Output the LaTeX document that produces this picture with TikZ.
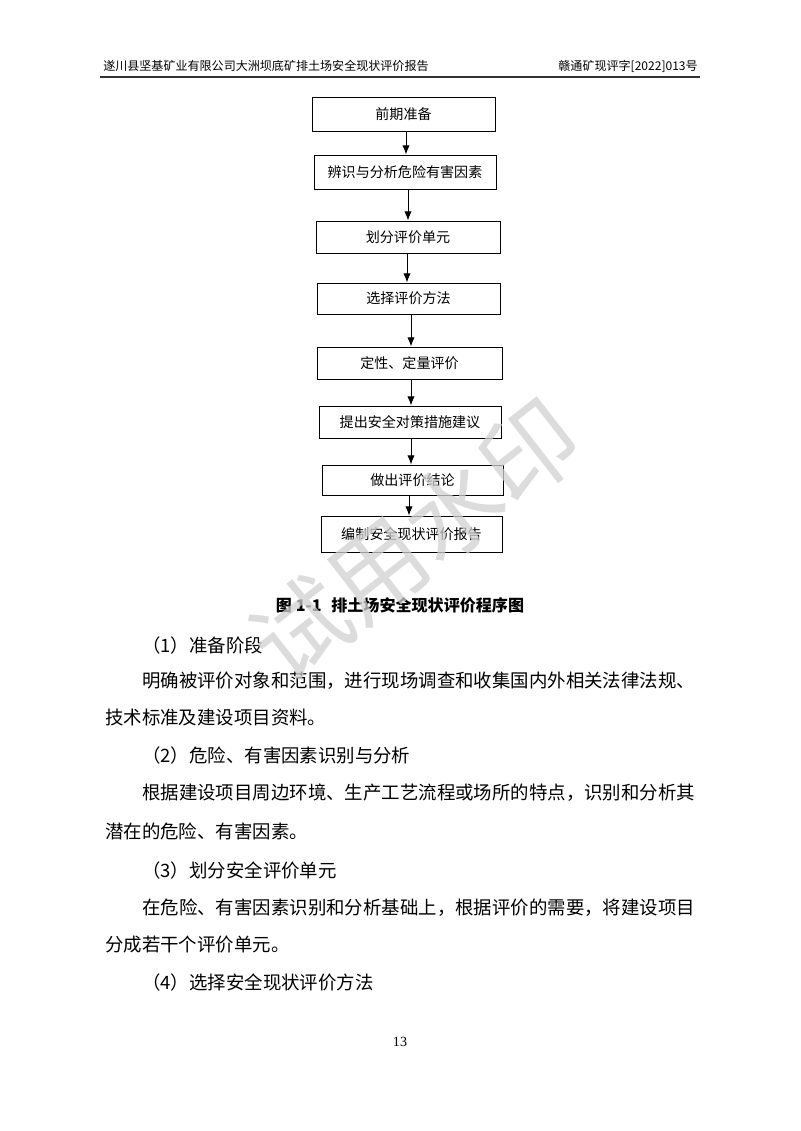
\documentclass[tikz,border=0pt]{standalone}
\usepackage{fontspec}
\setmainfont{Liberation Serif}
\newfontfamily\cjk{Noto Sans CJK SC}
\usetikzlibrary{arrows.meta}
\tikzset{
  flowbox/.style={draw=black, line width=0.7pt, inner sep=0pt, font=\cjk\fontsize{10.5}{12}\selectfont},
  arr/.style={line width=0.7pt, -{Latex[length=2.4mm,width=1.9mm]}},
  bodytext/.style={anchor=west, inner sep=0pt, font=\cjk\fontsize{13.76}{16}\selectfont},
  headtext/.style={inner sep=0pt, font=\cjk\fontsize{9}{11}\selectfont},
}
\begin{document}
\begin{tikzpicture}[x=0.2625mm, y=-0.2625mm]
\useasboundingbox (0,0) rectangle (800,1131);
\fill[white] (0,0) rectangle (800,1131);
% header
\node[headtext, anchor=west] (hl) at (103,66) {遂川县坚基矿业有限公司大洲坝底矿排土场安全现状评价报告};
\node[headtext, anchor=east] (hr) at (698,66) {赣通矿现评字[2022]013号};
\draw[line width=1.3pt, black!80] (100,77) -- (700,77);
% flow boxes
\node[flowbox, minimum width=183*0.2625mm, minimum height=34*0.2625mm] (b1) at (403.5,114) {前期准备};
\node[flowbox, minimum width=182*0.2625mm, minimum height=34*0.2625mm] (b2) at (405,172) {辨识与分析危险有害因素};
\node[flowbox, minimum width=184*0.2625mm, minimum height=32*0.2625mm] (b3) at (408,237) {划分评价单元};
\node[flowbox, minimum width=183*0.2625mm, minimum height=31*0.2625mm] (b4) at (408.5,298.5) {选择评价方法};
\node[flowbox, minimum width=185*0.2625mm, minimum height=32*0.2625mm] (b5) at (409.5,363) {定性、定量评价};
\node[flowbox, minimum width=182*0.2625mm, minimum height=32*0.2625mm] (b6) at (410,422) {提出安全对策措施建议};
\node[flowbox, minimum width=181*0.2625mm, minimum height=30*0.2625mm] (b7) at (412.5,480) {做出评价结论};
\node[flowbox, minimum width=181*0.2625mm, minimum height=36*0.2625mm] (b8) at (411.5,534) {编制安全现状评价报告};
% arrow x positions
\coordinate (x1) at (406,0);
\coordinate (x2) at (408,0);
\coordinate (x3) at (407,0);
\coordinate (x4) at (411,0);
\coordinate (x5) at (411,0);
\coordinate (x6) at (411,0);
\coordinate (x7) at (409,0);
\draw[arr] (b1.south -| x1) -- (b2.north -| x1);
\draw[arr] (b2.south -| x2) -- (b3.north -| x2);
\draw[arr] (b3.south -| x3) -- (b4.north -| x3);
\draw[arr] (b4.south -| x4) -- (b5.north -| x4);
\draw[arr] (b5.south -| x5) -- (b6.north -| x5);
\draw[arr] (b6.south -| x6) -- (b7.north -| x6);
\draw[arr] (b7.south -| x7) -- (b8.north -| x7);
% caption
\node[inner sep=0pt, font=\cjk\bfseries\fontsize{12}{14}\selectfont] (cap) at (400,605) {图\hspace{0.25em}1-1\hspace{0.6em}排土场安全现状评价程序图};
% body
\node[bodytext] (l1) at (142,645) {（1）准备阶段};
\node[bodytext] (l2) at (142,681) {明确被评价对象和范围，进行现场调查和收集国内外相关法律法规、};
\node[bodytext] (l3) at (105,718) {技术标准及建设项目资料。};
\node[bodytext] (l4) at (142,755) {（2）危险、有害因素识别与分析};
\node[bodytext] (l5) at (142,793) {根据建设项目周边环境、生产工艺流程或场所的特点，识别和分析其};
\node[bodytext] (l6) at (105,831) {潜在的危险、有害因素。};
\node[bodytext] (l7) at (142,870) {（3）划分安全评价单元};
\node[bodytext] (l8) at (142,908) {在危险、有害因素识别和分析基础上，根据评价的需要，将建设项目};
\node[bodytext] (l9) at (105,945) {分成若干个评价单元。};
\node[bodytext] (l10) at (142,982) {（4）选择安全现状评价方法};
% page number
\node[inner sep=0pt, font=\fontsize{10.5}{12}\selectfont] (pg) at (400,1042) {13};
% watermark
\node[inner sep=0pt, rotate=38, text=black!18, opacity=0.75, font=\cjk\fontsize{72}{80}\selectfont] (wm) at (415,540) {试用水印};
\end{tikzpicture}
\end{document}
